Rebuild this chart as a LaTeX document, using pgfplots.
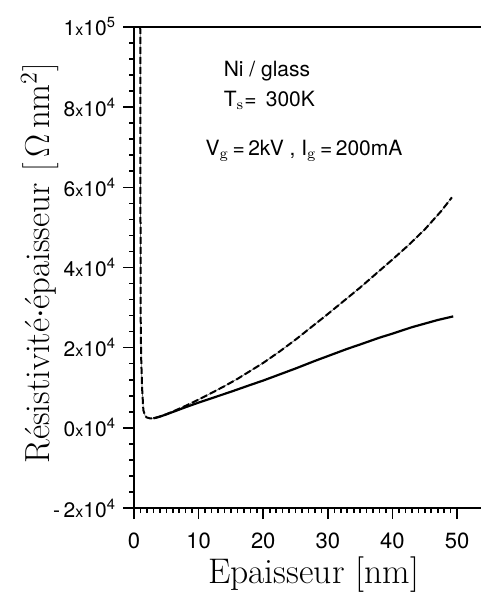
\documentclass[border=0pt]{standalone}
\usepackage{pgfplots}
\pgfplotsset{compat=1.18}
\usepackage{fontspec}
\newfontfamily\tickfont{TeX Gyre Heros}
\newcommand{\tl}[2]{#1{\fontsize{8}{8}\selectfont x}10\textsuperscript{#2}}
\pgfplotstableread{
x y
0.95 120000
1.00 60000
1.02 30000
1.10 18000
1.25 10000
1.45 4400
1.70 3100
1.95 2600
2.50 2350
3.00 2350
4.00 2800
5.00 3400
6.00 4050
8.00 5500
10.0 7050
12.0 8700
14.0 10400
16.0 12200
18.0 14200
20.0 16200
22.5 19000
25.0 22000
27.5 25200
30.0 28400
32.5 31700
35.0 35000
37.5 38500
40.0 42000
42.5 45600
45.0 49500
47.5 54000
49.2 57500
}\dashdata
\pgfplotstableread{
x y
3.00 2350
4.00 2800
5.00 3350
6.00 3950
8.00 5150
10.0 6300
12.5 7650
15.0 9000
18.0 10700
20.0 11800
23.0 13600
25.0 14800
28.0 16700
30.0 17900
33.0 19700
35.0 20800
38.0 22500
40.0 23500
43.0 25100
45.0 26000
47.0 26900
49.4 27800
}\soliddata
\begin{document}
\begin{tikzpicture}
\begin{axis}[
  name=ax,
  scale only axis,
  width=173.5pt, height=240.5pt,
  xmin=0, xmax=53.7,
  ymin=-20000, ymax=100000,
  axis x line=box,
  axis y line=left,
  y axis line style={-},
  axis line style={line width=1pt},
  xtick pos=lower,
  tick align=outside,
  xtick={0,10,20,30,40,50},
  minor x tick num=9,
  ytick={-20000,0,20000,40000,60000,80000,100000},
  minor y tick num=4,
  yticklabels={{-\,\tl{2}{4}},{\tl{0}{4}},{\tl{2}{4}},{\tl{4}{4}},{\tl{6}{4}},{\tl{8}{4}},{\tl{1}{5}}},
  scaled y ticks=false,
  xticklabel style={font=\tickfont\fontsize{11}{13}\selectfont, yshift=-3.5pt},
  yticklabel style={font=\tickfont\fontsize{10.5}{12}\selectfont},
  major tick length=5.5pt,
  minor tick length=2.5pt,
  every tick/.style={black, line width=0.8pt},
  xticklabel={\pgfmathprintnumber[assume math mode=true]{\tick}},
  xlabel={Epaisseur [nm]},
  ylabel={Résistivité$\cdot$épaisseur $\left[\,\Omega\,\mathrm{nm}^2\right]$},
  xlabel style={font=\fontsize{17.8}{20}\selectfont, at={(axis description cs:0.5,0)}, anchor=base, yshift=-37.5pt, xshift=3pt},
  ylabel style={font=\fontsize{17.4}{20}\selectfont, at={(axis description cs:0,0.51)}, anchor=north, yshift=60pt},
  clip=true,
]
\addplot[black, line width=0.3pt, opacity=0.6] table[x=x,y=y] {\dashdata};
\addplot[black, line width=1pt, dash pattern=on 3.5pt off 1.5pt] table[x=x,y=y] {\dashdata};
\addplot[black, line width=1.1pt] table[x=x,y=y] {\soliddata};
\node[anchor=west, font=\tickfont\fontsize{10.5}{12}\selectfont] at (axis cs:12.8,89000) {Ni / glass};
\node[anchor=west, font=\tickfont\fontsize{10.5}{12}\selectfont] at (axis cs:12.8,81600) {T$_\mathrm{s}$= \,300K};
\node[anchor=west, font=\tickfont\fontsize{10.5}{12}\selectfont] at (axis cs:10.0,69100) {V$_\mathrm{g}$\,=\,2kV , I$_\mathrm{g}$\,=\,200mA};
\end{axis}
\pgfresetboundingbox
\useasboundingbox (-67pt,-42pt) rectangle (173.5pt,254pt);
\end{tikzpicture}
\end{document}
